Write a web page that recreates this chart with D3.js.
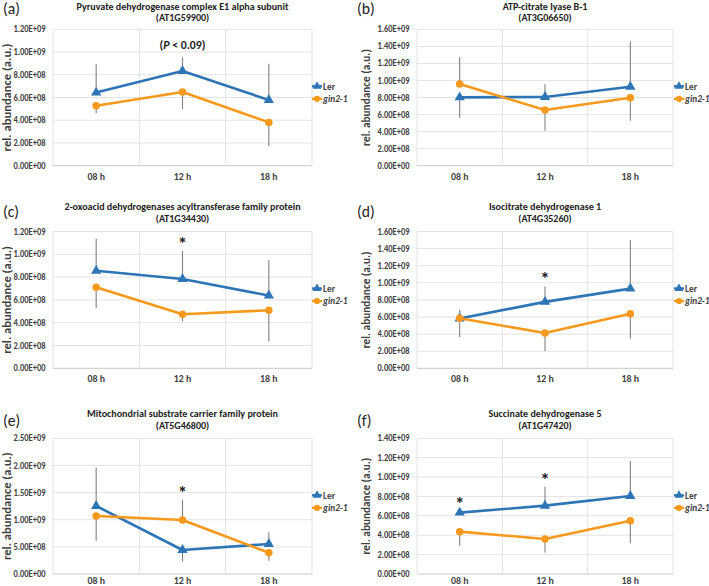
<!DOCTYPE html>
<html><head><meta charset="utf-8">
<script src="https://cdn.jsdelivr.net/npm/d3@7"></script>
<style>body{margin:0;background:#fff}svg{display:block}text{font-family:Carlito,Calibri,Lato,"Liberation Sans",Arial,sans-serif}</style>
</head><body><div id="chart"></div>
<script>
// ---------- DATA ----------
const categories = ["08 h", "12 h", "18 h"];
const panelLabels = ["(a)", "(b)", "(c)", "(d)", "(e)", "(f)"];
const titles = [
  "Pyruvate dehydrogenase complex E1 alpha subunit",
  "ATP-citrate lyase B-1",
  "2-oxoacid dehydrogenases acyltransferase family protein",
  "Isocitrate dehydrogenase 1",
  "Mitochondrial substrate carrier family protein",
  "Succinate dehydrogenase 5"
];
const geneIds = ["(AT1G59900)", "(AT3G06650)", "(AT1G34430)", "(AT4G35260)", "(AT5G46800)", "(AT1G47420)"];
const seriesNames = ["Ler", "gin2-1"];
const yMax = [1.2e9, 1.6e9, 1.2e9, 1.6e9, 2.5e9, 1.4e9];
const yStep = [2e8, 2e8, 2e8, 2e8, 5e8, 2e8];
const lerValues = [
  [0.643e9, 0.833e9, 0.578e9],
  [0.802e9, 0.806e9, 0.927e9],
  [0.855e9, 0.784e9, 0.638e9],
  [0.583e9, 0.777e9, 0.932e9],
  [1.253e9, 0.442e9, 0.553e9],
  [0.633e9, 0.705e9, 0.805e9]
];
const ginValues = [
  [0.528e9, 0.648e9, 0.381e9],
  [0.958e9, 0.653e9, 0.798e9],
  [0.711e9, 0.474e9, 0.509e9],
  [0.586e9, 0.412e9, 0.637e9],
  [1.069e9, 0.995e9, 0.393e9],
  [0.437e9, 0.361e9, 0.550e9]
];
const lerErr = [
  [0.25e9, 0.12e9, 0.32e9],
  [0.239e9, 0.148e9, 0.532e9],
  [0.281e9, 0.246e9, 0.313e9],
  [0.22e9, 0.18e9, 0.57e9],
  [0.71e9, 0.215e9, 0.215e9],
  [0.02e9, 0.196e9, 0.36e9]
];
const ginErr = [
  [0.068e9, 0.15e9, 0.21e9],
  [0.313e9, 0.242e9, 0.27e9],
  [0.184e9, 0.064e9, 0.275e9],
  [0.10e9, 0.21e9, 0.29e9],
  [0.455e9, 0.37e9, 0.147e9],
  [0.145e9, 0.14e9, 0.234e9]
];
// significance marks: [panel, category index, text]
const annotations = [
  [0, 1, "P"],
  [2, 1, "*"],
  [3, 1, "*"],
  [4, 1, "*"],
  [5, 0, "*"],
  [5, 1, "*"]
];

// ---------- LAYOUT ----------
const W = 709, H = 586;
const colors = ["#2E75B6", "#F7991C"];
const STRETCH = 1.1; // axis text in the reference is slightly taller than Calibri of equal width
const cols = [
  {plotL: 53, plotR: 312, tickX: 45.5, yTitleX: 11, legendX: 312, labX: 3, yTitleW: 108},
  {plotL: 417, plotR: 673, tickX: 409.5, yTitleX: 369.5, legendX: 674, labX: 357, yTitleW: 97}
];
const rows = [
  {top: 29.3, bottom: 165.7, t1: 9.5, t2: 21, lab: 14, xlab: 180},
  {top: 231.5, bottom: 368.3, t1: 210, t2: 221.5, lab: 217, xlab: 381.5},
  {top: 438.3, bottom: 574, t1: 417, t2: 428.5, lab: 426, xlab: 584}
];

const svg = d3.select("#chart").append("svg").attr("width", W).attr("height", H);

function fitSize(str, weight, style, target) {
  const t = svg.append("text").attr("font-size", 100).attr("font-weight", weight)
    .attr("font-style", style).text(str);
  const w = t.node().getComputedTextLength();
  t.remove();
  return 100 * target / w;
}
const fsTick = fitSize("1.20E+09", "bold", "normal", 32);
const fsX = fitSize("08 h", "bold", "normal", 17.5);
const fsTitle = fitSize(titles[0], "bold", "normal", 212);
const fsLegend = fitSize("gin2-1", "bold", "italic", 24.5);
const fsLab = fitSize("(a)", "normal", "normal", 17);
const fsP = fitSize("(P < 0.09)", "bold", "normal", 46);

function fmt(v) {
  const [m, e] = v.toExponential(2).split("e");
  const n = parseInt(e, 10);
  return m + "E" + (n < 0 ? "-" : "+") + String(Math.abs(n)).padStart(2, "0");
}

titles.forEach((title, i) => {
  const c = cols[i % 2], r = rows[Math.floor(i / 2)];
  const g = svg.append("g");
  const x = d3.scaleBand().domain(categories).range([c.plotL, c.plotR]);
  const y = d3.scaleLinear().domain([0, yMax[i]]).range([r.bottom, r.top]);
  const ticks = d3.range(0, yMax[i] + yStep[i] / 2, yStep[i]);

  // gridlines
  g.selectAll(".hg").data(ticks).join("line")
    .attr("x1", c.plotL).attr("x2", c.plotR)
    .attr("y1", d => y(d)).attr("y2", d => y(d))
    .attr("stroke", (d, k) => k === 0 ? "#c8c8c8" : "#e3e3e3").attr("stroke-width", 1);
  const vEdges = [c.plotL, ...categories.slice(1).map(cat => x(cat)), c.plotR];
  g.selectAll(".vg").data(vEdges).join("line")
    .attr("x1", d => d).attr("x2", d => d)
    .attr("y1", r.top).attr("y2", r.bottom)
    .attr("stroke", "#e3e3e3").attr("stroke-width", 1);

  // y tick labels
  g.selectAll(".yt").data(ticks).join("text")
    .attr("transform", d => `translate(${c.tickX},${y(d) + fsTick * 0.33 * STRETCH}) scale(1,${STRETCH})`)
    .attr("text-anchor", "end").attr("font-size", fsTick).attr("font-weight", "bold").attr("fill", "#404040")
    .text(fmt);
  // x tick labels
  g.selectAll(".xt").data(categories).join("text")
    .attr("transform", d => `translate(${x(d) + x.bandwidth() / 2},${r.xlab}) scale(1,${STRETCH})`)
    .attr("text-anchor", "middle").attr("font-size", fsX).attr("font-weight", "bold").attr("fill", "#404040")
    .text(d => d);
  // y title
  const fsY = fitSize("rel. abundance (a.u.)", "bold", "normal", c.yTitleW);
  g.append("text")
    .attr("transform", `translate(${c.yTitleX},${(r.top + r.bottom) / 2}) rotate(-90)`)
    .attr("text-anchor", "middle").attr("font-size", fsY).attr("font-weight", "bold").attr("fill", "#404040")
    .text("rel. abundance (a.u.)");
  // titles
  const cx = (c.plotL + c.plotR) / 2;
  g.append("text").attr("x", cx).attr("y", r.t1).attr("text-anchor", "middle")
    .attr("font-size", fsTitle).attr("font-weight", "bold").attr("fill", "#222").text(title);
  g.append("text").attr("x", cx).attr("y", r.t2).attr("text-anchor", "middle")
    .attr("font-size", fsTitle).attr("font-weight", "bold").attr("fill", "#222").text(geneIds[i]);
  g.append("text").attr("x", c.labX).attr("y", r.lab)
    .attr("font-size", fsLab).attr("fill", "#222").text(panelLabels[i]);

  const series = [lerValues[i], ginValues[i]];
  const errs = [lerErr[i], ginErr[i]];
  const cxOf = k => x(categories[k]) + x.bandwidth() / 2;

  // error bars (drawn outward: the higher series up, the lower series down)
  series.forEach((vals, s) => {
    const other = series[1 - s];
    g.selectAll(".eb" + s).data(vals).join("line")
      .attr("x1", (d, k) => cxOf(k)).attr("x2", (d, k) => cxOf(k))
      .attr("y1", d => y(d))
      .attr("y2", (d, k) => y(d >= other[k] ? d + errs[s][k] : d - errs[s][k]))
      .attr("stroke", "#808080").attr("stroke-width", 1.1);
  });

  // lines and markers
  series.forEach((vals, s) => {
    const line = d3.line().x((d, k) => cxOf(k)).y(d => y(d));
    g.append("path").attr("d", line(vals)).attr("fill", "none")
      .attr("stroke", colors[s]).attr("stroke-width", 2.6).attr("stroke-linejoin", "round");
    const sym = d3.symbol().type(s === 0 ? d3.symbolTriangle : d3.symbolCircle).size(s === 0 ? 46 : 44);
    g.selectAll(".m" + s).data(vals).join("path")
      .attr("transform", (d, k) => `translate(${cxOf(k)},${y(d)})`)
      .attr("d", sym()).attr("fill", colors[s]);
  });

  // legend
  seriesNames.forEach((name, s) => {
    const ly = r.top + 57 + s * 12.5;
    g.append("line").attr("x1", c.legendX).attr("x2", c.legendX + 10)
      .attr("y1", ly).attr("y2", ly).attr("stroke", colors[s]).attr("stroke-width", 2.4);
    g.append("path").attr("transform", `translate(${c.legendX + 5},${ly})`)
      .attr("d", d3.symbol().type(s === 0 ? d3.symbolTriangle : d3.symbolCircle).size(s === 0 ? 32 : 30)())
      .attr("fill", colors[s]);
    g.append("text")
      .attr("transform", `translate(${c.legendX + 11},${ly + fsLegend * 0.33 * STRETCH}) scale(1,${STRETCH})`)
      .attr("font-size", fsLegend).attr("font-weight", "bold").attr("fill", "#404040")
      .attr("font-style", s === 1 ? "italic" : "normal").text(name);
  });

  // annotations
  annotations.filter(a => a[0] === i).forEach(a => {
    const k = a[1];
    const topVal = Math.max(series[0][k] + (series[0][k] >= series[1][k] ? errs[0][k] : 0),
                            series[1][k] + (series[1][k] > series[0][k] ? errs[1][k] : 0));
    if (a[2] === "P") {
      const t = g.append("text").attr("x", cxOf(k)).attr("y", y(topVal) - 8)
        .attr("text-anchor", "middle").attr("font-size", fsP).attr("font-weight", "bold").attr("fill", "#222");
      t.append("tspan").text("(");
      t.append("tspan").attr("font-style", "italic").text("P");
      t.append("tspan").text(" < 0.09)");
    } else {
      g.append("text").attr("x", cxOf(k)).attr("y", y(topVal) - 1)
        .attr("text-anchor", "middle").attr("font-size", 19).attr("font-weight", "bold").attr("fill", "#222")
        .text("*");
    }
  });
});
</script></body></html>
